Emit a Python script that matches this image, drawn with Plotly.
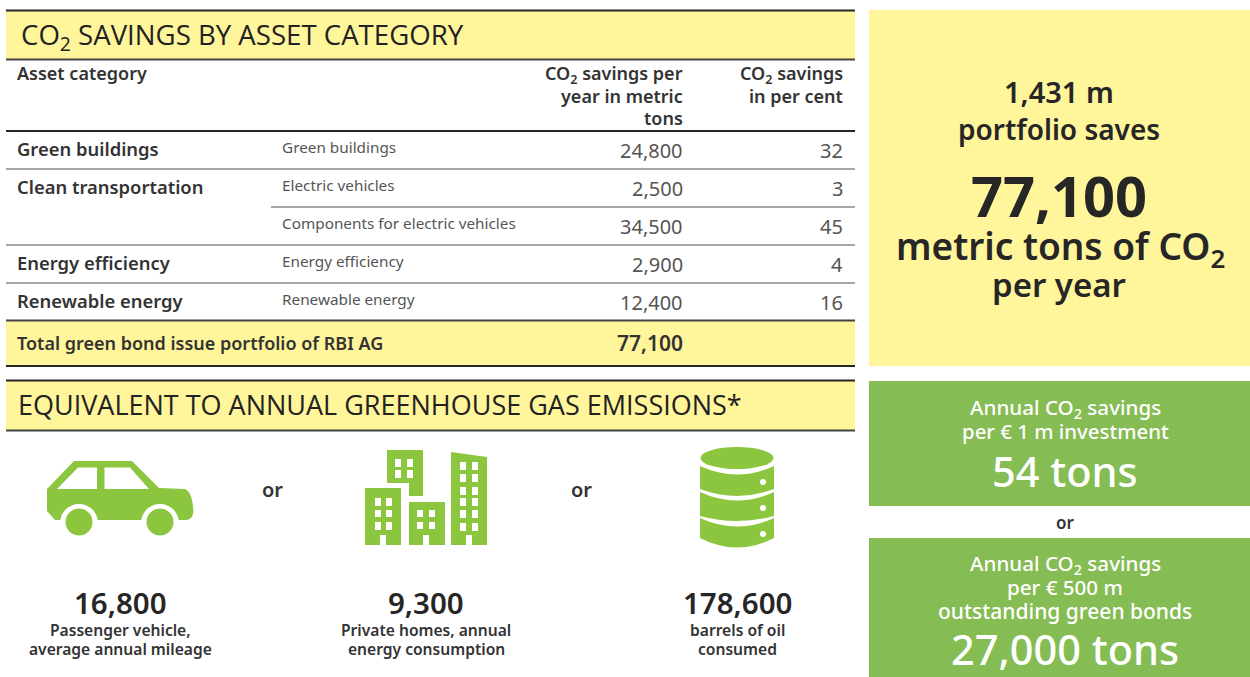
import plotly.graph_objects as go

# ---------- data ----------
title_table = "CO<sub>2</sub> SAVINGS BY ASSET CATEGORY"
title_equiv = "EQUIVALENT TO ANNUAL GREENHOUSE GAS EMISSIONS*"
col_asset = "Asset category"
col_tons = ["CO<sub>2</sub> savings per", "year in metric", "tons"]
col_pct = ["CO<sub>2</sub> savings", "in per cent"]
categories = ["Green buildings", "Clean transportation", "", "Energy efficiency", "Renewable energy"]
subcategories = ["Green buildings", "Electric vehicles", "Components for electric vehicles",
                 "Energy efficiency", "Renewable energy"]
tons = [24800, 2500, 34500, 2900, 12400]
percent = [32, 3, 45, 4, 16]
total_label = "Total green bond issue portfolio of RBI AG"
total_tons = 77100
equiv_values = [16800, 9300, 178600]
equiv_labels = [["Passenger vehicle,", "average annual mileage"],
                ["Private homes, annual", "energy consumption"],
                ["barrels of oil", "consumed"]]
portfolio = "1,431 m"
per_m_tons = 54
per_500m_tons = 27000

# ---------- style ----------
YEL = "#FFF59B"
GRN = "#85BC53"
ICON = "#8CC63F"
INK = "#262626"
GREY = "#555555"
HEAD = "#333333"
FONT = "Noto Sans"
TITLEF = "Open Sans"

shapes, ann = [], []

def rect(x0, y0, x1, y1, fill):
    shapes.append(dict(type="rect", x0=x0, y0=y0, x1=x1, y1=y1, fillcolor=fill,
                       line=dict(width=0), layer="below"))

def hline(y, x0=6, x1=855, color=INK, w=2):
    shapes.append(dict(type="line", x0=x0, x1=x1, y0=y, y1=y, line=dict(color=color, width=w)))

def path(d, fill):
    shapes.append(dict(type="path", path=d, fillcolor=fill, line=dict(width=0)))

def circle(cx, cy, r, fill):
    shapes.append(dict(type="circle", x0=cx-r, x1=cx+r, y0=cy-r, y1=cy+r, fillcolor=fill, line=dict(width=0)))

def text(x, y, s, size, color=INK, anchor="left", weight=400, family=FONT):
    ann.append(dict(x=x, y=y, text=s, showarrow=False, xanchor=anchor, yanchor="middle", align=anchor,
                    borderpad=0, borderwidth=0,
                    font=dict(size=size, color=color, family=family, weight=weight)))

# bands
rect(6, 11, 855, 59, YEL)
rect(6, 321, 855, 365, YEL)
rect(6, 381, 855, 430, YEL)
rect(869, 10, 1250, 366, YEL)
rect(869, 381, 1250, 506, GRN)
rect(869, 538, 1250, 677, GRN)

# rules
hline(10.5, color=INK)
hline(59.5, color="#444444")
hline(131, color=INK)
hline(169, color="#888888", w=1.5)
hline(207, x0=271, color="#888888", w=1.5)
hline(245, color="#888888", w=1.5)
hline(283, color="#888888", w=1.5)
hline(320.5, color="#444444")
hline(366, color=INK)
hline(380.5, color=INK)
hline(430.5, color="#444444")

# titles
text(21, 36, title_table, 27.6, family=TITLEF, color="#222222")
text(18, 404, title_equiv, 27, family=TITLEF, color="#222222")

# table header
text(17, 73, col_asset, 18, weight=600, color=HEAD)
for y, s in zip([74, 96, 118], col_tons):
    text(683, y, s, 18, weight=600, color=HEAD, anchor="right")
for y, s in zip([74, 96], col_pct):
    text(843, y, s, 18, weight=600, color=HEAD, anchor="right")

# table rows
row_y = [150, 188, 226, 264, 302]
for y, c, s, t, p in zip(row_y, categories, subcategories, tons, percent):
    if c:
        text(17, y-2, c, 18.4, weight=600, color=HEAD)
    text(282, y-3, s, 15.3, color=GREY)
    text(683, y, f"{t:,}", 20, color=GREY, anchor="right")
    text(843, y, str(p), 20, color=GREY, anchor="right")
text(17, 342.5, total_label, 18, weight=600, color=HEAD)
text(683, 343, f"{total_tons:,}", 21, weight=600, color=HEAD, anchor="right")

# "or"
text(272, 489, "or", 20, weight=600, anchor="center", color=HEAD)
text(581, 489, "or", 20, weight=600, anchor="center", color=HEAD)
text(1065, 522, "or", 17, weight=600, anchor="center", color=HEAD)

# equivalents
for cx, v, lab in zip([120, 426, 737], equiv_values, equiv_labels):
    text(cx, 602.5, f"{v:,}", 29.5, weight=600, anchor="center")
    for y, s in zip([630, 649], lab):
        text(cx, y, s, 15.6, weight=600, anchor="center", color=HEAD)

# car icon
path("M47,489 L74,461 L132,461 L159,488 L185,489 Q190,491 192,500 Q194,510 193,514 Q192,519 187,520 "
     "L62,520 L55,520 L47,511 Z", ICON)
circle(79, 523, 19, "white"); circle(160, 523, 19, "white")
circle(79, 522, 13.5, ICON); circle(160, 522, 13.5, ICON)
path("M57,489 L78,467.5 L97,467.5 L97,489 Z", "white")
path("M104.5,467.5 L130,467.5 L149,489 L104.5,489 Z", "white")

# buildings icon
path("M365,488 H401 V545 H386 V535 H380 V545 H365 Z", ICON)
path("M387,450 H423 V496 H409 V483 H387 Z", ICON)
path("M409,502 H445 V545 H429 V535 H423 V545 H409 Z", ICON)
path("M451,452 L487,457 V545 H472 V535 H466 V545 H451 Z", ICON)
def windows(xs, ys):
    for x in xs:
        for y0, y1 in ys:
            shapes.append(dict(type="rect", x0=x, x1=x+6, y0=y0, y1=y1, fillcolor="white", line=dict(width=0)))
windows([375, 386], [(498, 506), (510, 517), (522, 530)])
windows([395, 407], [(459, 467), (470, 478)])
windows([417, 429], [(510, 517), (522, 529)])
windows([460, 472], [(462, 470), (474, 482), (487, 495), (498, 506), (510, 518), (523, 531)])

# barrel icon
shapes.append(dict(type="circle", x0=700.5, x1=773.5, y0=447, y1=469, fillcolor=ICON, line=dict(width=0)))
path("M700,466 Q737,483 774,466 V489 Q737,503 700,489 Z", ICON)
path("M700,492 Q737,509 774,492 V516 Q737,526 700,516 Z", ICON)
path("M700,518 Q737,535 774,518 V538 Q737,557 700,538 Z", ICON)
for y in [482, 508, 534]:
    circle(763, y, 3, "white")

# right panel
text(1059, 91, portfolio, 29, weight=600, anchor="center")
text(1059, 129, "portfolio saves", 28, weight=600, anchor="center")
text(1059, 195, f"{total_tons:,}", 56, weight=700, anchor="center")
text(1060, 248, "metric tons of CO<sub>2</sub>", 37, weight=600, anchor="center")
text(1059, 284, "per year", 33, weight=600, anchor="center")

# green boxes
W = "white"
text(1065, 408, "Annual CO<sub>2</sub> savings", 20.6, W, "center", 500)
text(1065, 431, "per € 1 m investment", 20.4, W, "center", 500)
text(1065, 471, f"{per_m_tons} tons", 41.5, W, "center", 500)
text(1065, 564, "Annual CO<sub>2</sub> savings", 20.6, W, "center", 500)
text(1065, 587, "per € 500 m", 20.6, W, "center", 500)
text(1065, 611, "outstanding green bonds", 21, W, "center", 500)
text(1065, 649, f"{per_500m_tons:,} tons", 41.5, W, "center", 500)

fig = go.Figure()
fig.update_layout(width=1250, height=677, margin=dict(l=0, r=0, t=0, b=0),
                  paper_bgcolor="white", plot_bgcolor="white", shapes=shapes, annotations=ann,
                  xaxis=dict(range=[0, 1250], visible=False, fixedrange=True),
                  yaxis=dict(range=[677, 0], visible=False, fixedrange=True),
                  showlegend=False)
fig.write_html("out.html", config={"displayModeBar": False},
               post_script="document.body.style.margin='0';document.documentElement.style.overflow='hidden';")
